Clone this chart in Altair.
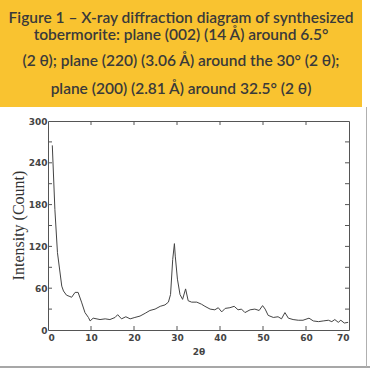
import altair as alt
import pandas as pd

two_theta = [1.0, 1.6, 2.2, 3.2, 3.6, 4.3, 5.1, 5.5, 6.3, 7.0, 7.8, 8.6, 9.4, 9.8, 10.5, 12.1, 13.3,
             14.4, 15.6, 16.2, 17.1, 18.1, 19.1, 20.2, 21.4, 22.6, 23.7, 24.9, 26.1, 27.2, 28.0,
             28.5, 29.0, 29.4, 29.6, 30.1, 30.7, 31.3, 32.0, 32.6, 33.4, 34.6, 35.7, 36.5, 37.7,
             38.8, 39.6, 40.4, 41.2, 42.3, 43.3, 44.2, 45.0, 45.8, 47.0, 48.1, 49.1, 49.9, 50.5,
             51.2, 52.4, 53.5, 54.3, 55.1, 55.9, 57.0, 58.2, 59.3, 60.7, 61.7, 62.9, 64.0, 65.2,
             66.0, 66.7, 67.5, 68.1, 68.9, 69.8]
intensity = [265, 173, 111, 63, 56, 50, 48, 47, 54, 54, 40, 25, 18, 13, 17, 15, 16,
             15, 18, 22, 16, 19, 16, 18, 20, 24, 28, 30, 34, 36, 40,
             51, 101, 124, 106, 73, 51, 44, 59, 42, 40, 40, 37, 34, 30,
             29, 32, 26, 31, 32, 34, 29, 30, 25, 29, 30, 28, 35, 30,
             21, 18, 19, 16, 25, 17, 15, 14, 14, 17, 13, 12, 13, 14,
             12, 15, 11, 14, 10, 11]

x_ticks = [10, 20, 30, 40, 50, 60]
y_ticks = [30, 60, 90, 120, 150, 180, 210, 240, 270]
x_labels = [0, 10, 20, 30, 40, 50, 60, 70]
y_labels = [0, 60, 120, 180, 240, 300]

title_lines = [
    "Figure 1 – X-ray diffraction diagram of synthesized",
    "tobermorite: plane (002) (14 Å) around 6.5°",
    "(2 θ); plane (220) (3.06 Å) around the 30° (2 θ);",
    "plane (200) (2.81 Å) around 32.5° (2 θ)",
]
title_y = [-103, -86, -60, -32]

df = pd.DataFrame({"t": two_theta, "i": intensity})
xs = alt.Scale(domain=[0, 70], nice=False)
ys = alt.Scale(domain=[0, 300], nice=False)

lab_font = "DejaVu Sans"

base_line = alt.Chart(df).mark_line(color="#444444", strokeWidth=1).encode(
    x=alt.X("t:Q", scale=xs, axis=alt.Axis(
        values=x_labels, title="2θ", tickSize=0, domain=False, grid=False,
        labelFont=lab_font, labelFontSize=9, labelFontWeight="bold", labelColor="#444444",
        labelPadding=3, titleFont=lab_font, titleFontSize=9, titleFontWeight="bold",
        titleColor="#444444", titlePadding=5)),
    y=alt.Y("i:Q", scale=ys, axis=alt.Axis(
        values=y_labels, title="Intensity (Count)", tickSize=0, domain=False, grid=False,
        labelFont=lab_font, labelFontSize=9, labelFontWeight="bold", labelColor="#444444",
        labelPadding=1, titleFont="Liberation Serif", titleFontSize=16,
        titleFontWeight="normal", titleColor="#333333", titleX=-30, titleY=104,
        titleAlign="center", titleBaseline="middle")),
)

yt = pd.DataFrame({"y": y_ticks})
xt = pd.DataFrame({"x": x_ticks})
tick_l = alt.Chart(yt).mark_rule(color="#555555").encode(
    y=alt.Y("y:Q", scale=ys), x=alt.value(0), x2=alt.value(4))
tick_r = alt.Chart(yt).mark_rule(color="#555555").encode(
    y=alt.Y("y:Q", scale=ys), x=alt.value(297), x2=alt.value(301))
tick_t = alt.Chart(xt).mark_rule(color="#555555").encode(
    x=alt.X("x:Q", scale=xs), y=alt.value(0), y2=alt.value(4))
tick_b = alt.Chart(xt).mark_rule(color="#555555").encode(
    x=alt.X("x:Q", scale=xs), y=alt.value(205), y2=alt.value(209))

box = alt.Chart(pd.DataFrame({"a": [0]})).mark_rect(color="#F9C330").encode(
    x=alt.value(-48), x2=alt.value(314), y=alt.value(-121), y2=alt.value(-14))

frame_b = alt.Chart(pd.DataFrame({"a": [0]})).mark_rule(color="#8a8a8a", strokeWidth=1.5).encode(
    x=alt.value(-48), x2=alt.value(322), y=alt.value(246))
frame_r = alt.Chart(pd.DataFrame({"a": [0]})).mark_rule(color="#b0b0b0", strokeWidth=1).encode(
    x=alt.value(318.5), y=alt.value(-14), y2=alt.value(246))

texts = []
for ln, ty in zip(title_lines, title_y):
    texts.append(alt.Chart(pd.DataFrame({"line": [ln]})).mark_text(
        font="Lato", fontSize=15.5, fontWeight=600, color="#3a3a3a",
        align="center", baseline="middle").encode(
        text="line:N", x=alt.value(133), y=alt.value(ty)))

chart = alt.layer(box, frame_b, frame_r, base_line, tick_l, tick_r, tick_t, tick_b, *texts).properties(
    width=301, height=209,
    autosize=alt.AutoSizeParams(type="none"),
    padding={"left": 48, "top": 121, "right": 21, "bottom": 40},
    background="white",
).configure_view(stroke="#555555", strokeWidth=1)

chart.save("out.html", embed_options={"renderer": "svg", "actions": False})
